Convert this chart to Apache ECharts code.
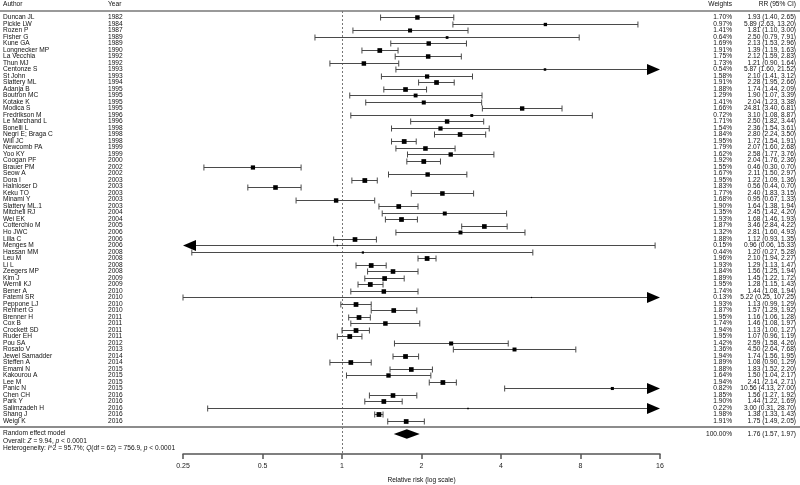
<!DOCTYPE html>
<html><head><meta charset="utf-8">
<script src="https://cdn.jsdelivr.net/npm/echarts@6/dist/echarts.min.js"></script>
<style>html,body{margin:0;padding:0;background:#fff}#c{width:800px;height:485px}</style>
</head><body><div id="c"></div>
<script>
const authors = ["Duncan JL","Pickle LW","Rozen P","Fisher G","Kune GA","Longnecker MP","La Vecchia","Thun MJ","Centonze S","St John","Slattery ML","Adanja B","Boutron MC","Kotake K","Modica S","Fredrikson M","Le Marchand L","Bonelli L","Negri E; Braga C","Will JC","Newcomb PA","Yoo KY","Coogan PF","Brauer PM","Seow A","Dora I","Halnloser D","Keku TO","Minami Y","Slattery ML.1","Mitchell RJ","Wei EK","Cotterchio M","Ho JWC","Lilla C","Menges M","Hassan MM","Leu M","Li L","Zeegers MP","Kim J","Wernli KJ","Bener A","Fatemi SR","Peppone LJ","Rennert G","Brenner H","Cox B","Crockett SD","Ruder EH","Pou SA","Rosato V","Jewel Samadder","Steffen A","Emami N","Kakourou A","Lee M","Panic N","Chen CH","Park Y","Salimzadeh H","Shang J","Weigl K"];
const years = [1982,1984,1987,1989,1989,1990,1992,1992,1993,1993,1994,1995,1995,1995,1995,1996,1996,1998,1998,1998,1999,1999,2000,2002,2002,2003,2003,2003,2003,2003,2004,2004,2005,2006,2006,2006,2008,2008,2008,2008,2009,2009,2010,2010,2010,2010,2011,2011,2011,2011,2012,2013,2014,2014,2015,2015,2015,2015,2016,2016,2016,2016,2016];
const weights = [1.70,0.97,1.41,0.64,1.69,1.91,1.75,1.73,0.54,1.58,1.91,1.88,1.29,1.41,1.66,0.72,1.71,1.54,1.84,1.95,1.79,1.62,1.92,1.55,1.67,1.95,1.83,1.77,1.68,1.90,1.35,1.93,1.87,1.32,1.88,0.15,0.44,1.96,1.93,1.84,1.89,1.95,1.74,0.13,1.93,1.87,1.95,1.74,1.94,1.95,1.42,1.36,1.94,1.89,1.88,1.64,1.94,0.82,1.85,1.90,0.22,1.98,1.91];
const rr = [1.93,5.89,1.81,2.50,2.13,1.39,2.12,1.21,5.87,2.10,2.28,1.74,1.90,2.04,4.81,3.10,2.50,2.36,2.80,1.72,2.07,2.58,2.04,0.46,2.11,1.22,0.56,2.40,0.95,1.64,2.45,1.68,3.46,2.81,1.12,0.96,1.20,2.10,1.29,1.56,1.45,1.28,1.44,5.22,1.13,1.57,1.16,1.46,1.13,1.07,2.59,4.50,1.74,1.08,1.83,1.50,2.41,10.56,1.56,1.44,3.00,1.38,1.75];
const lower = [1.40,2.63,1.10,0.79,1.53,1.19,1.59,0.90,1.60,1.41,1.95,1.44,1.07,1.23,3.40,1.08,1.82,1.54,2.24,1.54,1.60,1.77,1.76,0.30,1.50,1.09,0.44,1.83,0.67,1.38,1.42,1.46,2.84,1.60,0.93,0.06,0.27,1.94,1.13,1.25,1.22,1.15,1.08,0.25,0.99,1.29,1.06,1.08,1.00,0.96,1.58,2.64,1.56,0.90,1.52,1.04,2.14,4.13,1.27,1.22,0.31,1.33,1.49];
const upper = [2.65,13.20,3.00,7.91,2.96,1.63,2.83,1.64,21.52,3.12,2.66,2.09,3.39,3.38,6.81,8.87,3.44,3.61,3.50,1.91,2.68,3.76,2.36,0.70,2.97,1.36,0.70,3.15,1.33,1.94,4.20,1.93,4.22,4.93,1.35,15.33,5.28,2.27,1.47,1.94,1.72,1.43,1.94,107.25,1.29,1.92,1.28,1.97,1.27,1.19,4.26,7.68,1.95,1.29,2.20,2.17,2.71,27.00,1.92,1.69,28.70,1.43,2.05];
// estimate printed differently in the source table (row "Modica S")
const printedEstimate = {14: "24.81"};
const pooled = {rr: 1.76, lower: 1.57, upper: 1.97, weight: "100.00%"};
const tickValues = [0.25, 0.5, 1, 2, 4, 8, 16];

const FONT = '"Liberation Sans", Arial, Helvetica, sans-serif';
const FS = 6.6;
const TXT = '#111';
const log2 = v => Math.log(v) / Math.LN2;
const XMIN = log2(tickValues[0]), XMAX = log2(tickValues[tickValues.length - 1]);
const N = authors.length;
const SUMROW = N + 1;

const rowData = authors.map((a, i) => [log2(rr[i]), log2(lower[i]), log2(upper[i]), weights[i], i]);
const f2 = v => v.toFixed(2);
const ciLabel = i => (printedEstimate[i] || f2(rr[i])) + ' (' + f2(lower[i]) + ', ' + f2(upper[i]) + ')';

function renderCI(params, api) {
  const i = api.value(4);
  const c = api.coord([api.value(0), i]);
  const y = Math.round(c[1]) + 0.5;
  const L = api.coord([XMIN, i])[0], R = api.coord([XMAX, i])[0];
  const lo = api.coord([api.value(1), i])[0], hi = api.coord([api.value(2), i])[0];
  const clipL = lo < L - 0.5, clipR = hi > R + 0.5;
  const aw = 13, ah = 5.5, th = 3;
  const x1 = clipL ? L + aw : lo, x2 = clipR ? R - aw : hi;
  const ch = [];
  const ls = {stroke: '#4a4a4a', lineWidth: 1};
  ch.push({type: 'line', shape: {x1: x1, y1: y, x2: x2, y2: y}, style: ls});
  if (clipL) ch.push({type: 'polygon', shape: {points: [[L, y], [L + aw, y - ah], [L + aw, y + ah]]}, style: {fill: '#000'}});
  else ch.push({type: 'line', shape: {x1: lo, y1: y - th, x2: lo, y2: y + th}, style: ls});
  if (clipR) ch.push({type: 'polygon', shape: {points: [[R, y], [R - aw, y - ah], [R - aw, y + ah]]}, style: {fill: '#000'}});
  else ch.push({type: 'line', shape: {x1: hi, y1: y - th, x2: hi, y2: y + th}, style: ls});
  const s = 3.4 * Math.sqrt(api.value(3));
  ch.push({type: 'rect', shape: {x: c[0] - s / 2, y: y - s / 2, width: s, height: s}, style: {fill: '#000'}});
  return {type: 'group', children: ch};
}

function renderText(params, api) {
  const i = api.value(0);
  const y = api.coord([0, i])[1];
  const st = (t, x, al) => ({type: 'text', style: {text: t, x: x, y: y, align: al, verticalAlign: 'middle', fontSize: FS, fontFamily: FONT, fill: TXT}});
  return {type: 'group', children: [
    st(authors[i], 3, 'left'),
    st(String(years[i]), 108, 'left'),
    st(weights[i].toFixed(2) + '%', 732, 'right'),
    st(ciLabel(i), 796, 'right')
  ]};
}

function renderDiamond(params, api) {
  const row = api.value(3);
  const c = api.coord([api.value(0), row]);
  const lo = api.coord([api.value(1), row])[0], hi = api.coord([api.value(2), row])[0];
  const h = 4.7;
  return {type: 'polygon', shape: {points: [[lo, c[1]], [c[0], c[1] - h], [hi, c[1]], [c[0], c[1] + h]]}, style: {fill: '#000'}};
}

function renderRef(params, api) {
  const x = Math.round(api.coord([api.value(0), 0])[0]) + 0.5;
  return {type: 'line', shape: {x1: x, y1: 11, x2: x, y2: 454}, style: {stroke: '#777', lineWidth: 1, lineDash: [2, 2]}};
}

const gtext = (t, x, y, al, rich) => ({type: 'text', x: x, y: y, style: {text: t, align: al, verticalAlign: 'middle', fontSize: FS, fontFamily: FONT, fill: TXT, rich: rich}});
const ital = {i: {fontStyle: 'italic', fontSize: FS, fontFamily: FONT, fill: TXT}};

const chart = echarts.init(document.getElementById('c'), null, {renderer: 'canvas'});
chart.setOption({
  animation: false,
  backgroundColor: '#fff',
  grid: [
    {left: 183, width: 477, top: 17.3, height: 416.7},
    {left: 183, width: 477, top: 444, height: 10}
  ],
  xAxis: [
    {gridIndex: 0, type: 'value', min: XMIN, max: XMAX, show: false},
    {gridIndex: 1, type: 'value', min: XMIN, max: XMAX, interval: 1, position: 'bottom',
     axisLine: {lineStyle: {color: '#555', width: 1.5}},
     axisTick: {length: 5, lineStyle: {color: '#555', width: 1.5}},
     splitLine: {show: false},
     axisLabel: {margin: 9, fontSize: 7, fontFamily: FONT, color: '#222', formatter: v => String(Math.pow(2, v))},
     name: 'Relative risk (log scale)', nameLocation: 'middle', nameGap: 23,
     nameTextStyle: {fontSize: FS, fontFamily: FONT, color: TXT}}
  ],
  yAxis: [
    {gridIndex: 0, type: 'value', min: 0, max: SUMROW, inverse: true, show: false},
    {gridIndex: 1, type: 'value', show: false}
  ],
  graphic: [
    gtext('Author', 3, 4.5, 'left'),
    gtext('Year', 108, 4.5, 'left'),
    gtext('Weights', 732, 4.5, 'right'),
    gtext('RR (95% CI)', 796, 4.5, 'right'),
    {type: 'line', shape: {x1: 0, y1: 11, x2: 800, y2: 11}, style: {stroke: '#777', lineWidth: 1.6}},
    {type: 'line', shape: {x1: 0, y1: 427, x2: 800, y2: 427}, style: {stroke: '#666', lineWidth: 1.6}},
    gtext('Random effect model', 3, 433.5, 'left'),
    gtext('Overall: {i|Z} = 9.94, {i|p} < 0.0001', 3, 440.7, 'left', ital),
    gtext('Heterogeneity: {i|I}^2 = 95.7%; {i|Q}(df = 62) = 756.9, {i|p} < 0.0001', 3, 447.7, 'left', ital),
    gtext(pooled.weight, 732, 434, 'right'),
    gtext(f2(pooled.rr) + ' (' + f2(pooled.lower) + ', ' + f2(pooled.upper) + ')', 796, 434, 'right')
  ],
  series: [
    {type: 'custom', xAxisIndex: 0, yAxisIndex: 0, renderItem: renderRef, data: [[0]], clip: false, silent: true},
    {type: 'custom', xAxisIndex: 0, yAxisIndex: 0, renderItem: renderCI, data: rowData, clip: false, silent: true,
     encode: {x: [0, 1, 2], y: 4}},
    {type: 'custom', xAxisIndex: 0, yAxisIndex: 0, renderItem: renderText, data: authors.map((a, i) => [i]), clip: false, silent: true,
     encode: {y: 0}},
    {type: 'custom', xAxisIndex: 0, yAxisIndex: 0, renderItem: renderDiamond, clip: false, silent: true,
     data: [[log2(pooled.rr), log2(pooled.lower), log2(pooled.upper), SUMROW]], encode: {x: [0, 1, 2], y: 3}}
  ]
});
</script></body></html>
